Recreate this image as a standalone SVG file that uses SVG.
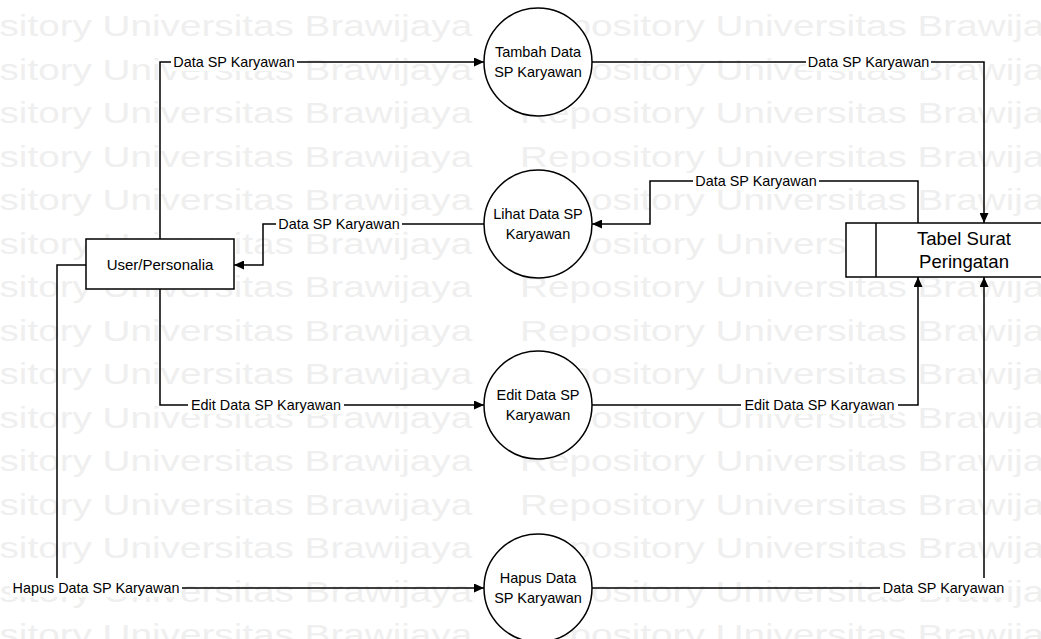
<svg xmlns="http://www.w3.org/2000/svg" width="1041" height="639" viewBox="0 0 1041 639">
<style>
.wm{font-family:"Liberation Sans",Arial,sans-serif;font-size:29px;fill:#efefef}
.shape{fill:#fff;stroke:#000;stroke-width:1.5}
.t{font-family:"Liberation Sans",Arial,sans-serif;font-size:14.5px;fill:#000;text-anchor:middle}
.tb{font-family:"Liberation Sans",Arial,sans-serif;font-size:18.6px;fill:#000;text-anchor:middle}
.lbl{font-family:"Liberation Sans",Arial,sans-serif;font-size:14.4px;fill:#000;text-anchor:middle}
.bg{fill:#fff}
.c{fill:none;stroke:#000;stroke-width:1.5;marker-end:url(#arr)}
.cn{fill:none;stroke:#000;stroke-width:1.5}
</style>
<defs>
<marker id="arr" markerUnits="userSpaceOnUse" markerWidth="11" markerHeight="9" refX="10" refY="4.5" orient="auto">
<path d="M0,0 L10,4.5 L0,9 z" fill="#000"/>
</marker>
</defs>
<rect width="1041" height="639" fill="#fff"/>
<g id="watermark" transform="scale(1.334,1)">
<text class="wm" x="-69.7" y="-7">Repository Universitas Brawijaya</text><text class="wm" x="389.8" y="-7">Repository Universitas Brawijaya</text>
<text class="wm" x="-69.7" y="36.5">Repository Universitas Brawijaya</text><text class="wm" x="389.8" y="36.5">Repository Universitas Brawijaya</text>
<text class="wm" x="-69.7" y="80">Repository Universitas Brawijaya</text><text class="wm" x="389.8" y="80">Repository Universitas Brawijaya</text>
<text class="wm" x="-69.7" y="123.5">Repository Universitas Brawijaya</text><text class="wm" x="389.8" y="123.5">Repository Universitas Brawijaya</text>
<text class="wm" x="-69.7" y="167">Repository Universitas Brawijaya</text><text class="wm" x="389.8" y="167">Repository Universitas Brawijaya</text>
<text class="wm" x="-69.7" y="210.5">Repository Universitas Brawijaya</text><text class="wm" x="389.8" y="210.5">Repository Universitas Brawijaya</text>
<text class="wm" x="-69.7" y="254">Repository Universitas Brawijaya</text><text class="wm" x="389.8" y="254">Repository Universitas Brawijaya</text>
<text class="wm" x="-69.7" y="297.5">Repository Universitas Brawijaya</text><text class="wm" x="389.8" y="297.5">Repository Universitas Brawijaya</text>
<text class="wm" x="-69.7" y="341">Repository Universitas Brawijaya</text><text class="wm" x="389.8" y="341">Repository Universitas Brawijaya</text>
<text class="wm" x="-69.7" y="384.5">Repository Universitas Brawijaya</text><text class="wm" x="389.8" y="384.5">Repository Universitas Brawijaya</text>
<text class="wm" x="-69.7" y="428">Repository Universitas Brawijaya</text><text class="wm" x="389.8" y="428">Repository Universitas Brawijaya</text>
<text class="wm" x="-69.7" y="471.5">Repository Universitas Brawijaya</text><text class="wm" x="389.8" y="471.5">Repository Universitas Brawijaya</text>
<text class="wm" x="-69.7" y="515">Repository Universitas Brawijaya</text><text class="wm" x="389.8" y="515">Repository Universitas Brawijaya</text>
<text class="wm" x="-69.7" y="558.5">Repository Universitas Brawijaya</text><text class="wm" x="389.8" y="558.5">Repository Universitas Brawijaya</text>
<text class="wm" x="-69.7" y="602">Repository Universitas Brawijaya</text><text class="wm" x="389.8" y="602">Repository Universitas Brawijaya</text>
<text class="wm" x="-69.7" y="645.5">Repository Universitas Brawijaya</text><text class="wm" x="389.8" y="645.5">Repository Universitas Brawijaya</text>
</g>
<g id="connectors">
<path class="c" d="M160,239 V62 H484"/>
<path class="c" d="M592,62 H984 V223"/>
<path class="c" d="M918,223 V181 H650 V224 H592"/>
<path class="c" d="M484,224 H263 V265 H234"/>
<path class="c" d="M160,289 V405 H484"/>
<path class="c" d="M592,405 H918 V277"/>
<path class="c" d="M86,265 H57 V588 H484"/>
<path class="c" d="M592,588 H984 V277"/>
<rect class="bg" x="171" y="53" width="126" height="18"/>
<text class="lbl" x="234" y="67">Data SP Karyawan</text>
<rect class="bg" x="806" y="53" width="125" height="18"/>
<text class="lbl" x="868.5" y="67">Data SP Karyawan</text>
<rect class="bg" x="693" y="172" width="126" height="18"/>
<text class="lbl" x="756" y="186">Data SP Karyawan</text>
<rect class="bg" x="276" y="215" width="126" height="18"/>
<text class="lbl" x="339" y="229">Data SP Karyawan</text>
<rect class="bg" x="188" y="396" width="156" height="18"/>
<text class="lbl" x="266" y="410">Edit Data SP Karyawan</text>
<rect class="bg" x="741" y="396" width="157" height="18"/>
<text class="lbl" x="819.5" y="410">Edit Data SP Karyawan</text>
<rect class="bg" x="10" y="578" width="172" height="19"/>
<text class="lbl" x="96" y="593">Hapus Data SP Karyawan</text>
<rect class="bg" x="880" y="578" width="127" height="19"/>
<text class="lbl" x="943.5" y="593">Data SP Karyawan</text>
</g>
<g id="user">
<rect class="shape" x="86" y="239" width="148" height="50"/>
<text class="t" x="160" y="269.5" style="font-size:15px">User/Personalia</text>
</g>
<g id="tambah">
<circle class="shape" cx="538" cy="62" r="54"/>
<text class="t" x="538" y="57">Tambah Data</text>
<text class="t" x="538" y="77">SP Karyawan</text>
</g>
<g id="lihat">
<circle class="shape" cx="538" cy="224" r="54"/>
<text class="t" x="538" y="219">Lihat Data SP</text>
<text class="t" x="538" y="239">Karyawan</text>
</g>
<g id="edit">
<circle class="shape" cx="538" cy="405" r="54"/>
<text class="t" x="538" y="400">Edit Data SP</text>
<text class="t" x="538" y="420">Karyawan</text>
</g>
<g id="hapus">
<circle class="shape" cx="538" cy="588" r="54"/>
<text class="t" x="538" y="583">Hapus Data</text>
<text class="t" x="538" y="603">SP Karyawan</text>
</g>
<g id="tabel">
<rect class="shape" x="846" y="223" width="206" height="54"/>
<line class="cn" x1="876" y1="223" x2="876" y2="277"/>
<text class="tb" x="964" y="245">Tabel Surat</text>
<text class="tb" x="964" y="268">Peringatan</text>
</g>
</svg>
